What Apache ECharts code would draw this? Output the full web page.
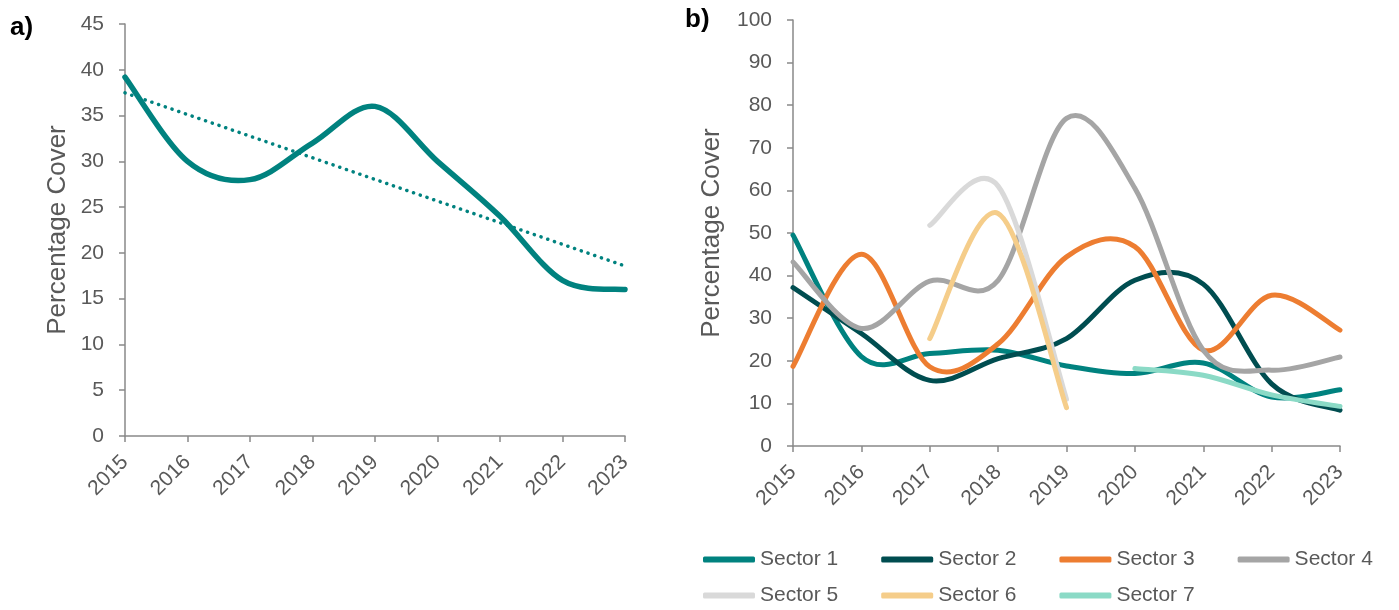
<!DOCTYPE html>
<html>
<head>
<meta charset="utf-8">
<script src="https://cdn.jsdelivr.net/npm/echarts@6/dist/echarts.min.js"></script>
<style>
  html, body { margin: 0; padding: 0; background: #fff; }
  #chart { width: 1399px; height: 610px; }
</style>
</head>
<body>
<div id="chart"></div>
<script>
// Survey years shared by both panels
const years = ['2015', '2016', '2017', '2018', '2019', '2020', '2021', '2022', '2023'];

// Panel a) overall percentage cover
const overallCover = [39.2, 30, 28, 32, 36, 30, 24, 17, 16];

// Panel b) percentage cover per sector (null = not surveyed)
const sector1 = [49.5, 21, 21.7, 22.5, 18.8, 17, 19.5, 11.5, 13.2];
const sector2 = [37.2, 26.4, 15.4, 20.5, 25.2, 38.9, 38, 14.6, 8.4];
const sector3 = [18.7, 45, 18.6, 24, 44.4, 46.8, 22.5, 35.4, 27.2];
const sector4 = [43.2, 27.6, 38.7, 38.9, 76.9, 60.5, 22.5, 17.8, 20.9];
const sector5 = [null, null, 51.8, 61, 11, null, null, null, null];
const sector6 = [null, null, 25.2, 54.6, 9, null, null, null, null];
const sector7 = [null, null, null, null, null, 18.2, 16.6, 12, 9.3];

const sectorNames = ['Sector 1', 'Sector 2', 'Sector 3', 'Sector 4', 'Sector 5', 'Sector 6', 'Sector 7'];
const sectorData = [sector1, sector2, sector3, sector4, sector5, sector6, sector7];
const sectorColors = ['#00827f', '#004d50', '#ed7d31', '#a5a5a5', '#d9d9d9', '#f5cd8a', '#8bdac6'];

// Least-squares linear trend of the overall cover
function linearTrend(values) {
  const n = values.length;
  let sx = 0, sy = 0, sxy = 0, sxx = 0;
  values.forEach((v, i) => { sx += i; sy += v; sxy += i * v; sxx += i * i; });
  const slope = (n * sxy - sx * sy) / (n * sxx - sx * sx);
  const icpt = (sy - slope * sx) / n;
  return values.map((_, i) => +(icpt + slope * i).toFixed(3));
}
const overallTrend = linearTrend(overallCover);

const FONT = '"Liberation Sans", Arial, sans-serif';
const TEXT = '#595959';
const AXIS = '#898989';

// Smoothed line drawn as a Catmull-Rom style cubic Bezier through the
// points projected by the axes (spreadsheet-style smoothing).
function smoothLine(name, values, color, width, axisIndex) {
  const pts = [];
  values.forEach((v, i) => { if (v !== null) pts.push([i, v]); });
  return {
    name, type: 'custom', coordinateSystem: 'cartesian2d',
    xAxisIndex: axisIndex, yAxisIndex: axisIndex,
    data: pts, encode: { x: 0, y: 1 },
    itemStyle: { color },
    renderItem(params, api) {
      if (params.dataIndex !== 0) return { type: 'group', children: [] };
      const p = pts.map(d => api.coord(d));
      let d = 'M' + p[0][0] + ' ' + p[0][1];
      for (let i = 0; i < p.length - 1; i++) {
        const p0 = p[Math.max(i - 1, 0)], p1 = p[i], p2 = p[i + 1], p3 = p[Math.min(i + 2, p.length - 1)];
        const c1x = p1[0] + (p2[0] - p0[0]) / 6, c1y = p1[1] + (p2[1] - p0[1]) / 6;
        const c2x = p2[0] - (p3[0] - p1[0]) / 6, c2y = p2[1] - (p3[1] - p1[1]) / 6;
        d += ' C' + c1x + ' ' + c1y + ' ' + c2x + ' ' + c2y + ' ' + p2[0] + ' ' + p2[1];
      }
      return {
        type: 'path', shape: { pathData: d },
        style: { stroke: color, fill: 'none', lineWidth: width, lineCap: 'round', lineJoin: 'round' }
      };
    }
  };
}

function xAxisCfg(gridIndex) {
  return {
    type: 'category', gridIndex, data: years, boundaryGap: false,
    axisLine: { lineStyle: { color: AXIS, width: 1.5 } },
    axisTick: { show: true, length: 6, lineStyle: { color: AXIS, width: 1.5 } },
    axisLabel: { rotate: 45, color: TEXT, fontSize: 21, fontFamily: FONT, margin: 23, interval: 0 },
    splitLine: { show: false }
  };
}
function yAxisCfg(gridIndex, max, interval, gap) {
  return {
    type: 'value', gridIndex, min: 0, max, interval,
    name: 'Percentage Cover', nameLocation: 'middle', nameGap: gap,
    nameTextStyle: { color: TEXT, fontSize: 26, fontFamily: FONT },
    axisLine: { show: true, lineStyle: { color: AXIS, width: 1.5 } },
    axisTick: { show: true, length: 6, lineStyle: { color: AXIS, width: 1.5 } },
    axisLabel: { color: TEXT, fontSize: 21, fontFamily: FONT, margin: 21 },
    splitLine: { show: false }
  };
}

const sectorSeries = sectorNames.map((name, i) => smoothLine(name, sectorData[i], sectorColors[i], 5, 1));

const legendText = { color: TEXT, fontSize: 21, fontFamily: FONT };

const option = {
  animation: false,
  backgroundColor: '#ffffff',
  grid: [
    { left: 125, right: 774, top: 24, bottom: 174 },
    { left: 793, right: 59, top: 20, bottom: 164 }
  ],
  xAxis: [xAxisCfg(0), xAxisCfg(1)],
  yAxis: [yAxisCfg(0, 45, 5, 54), yAxisCfg(1, 100, 10, 68)],
  legend: [
    { data: sectorNames.slice(0, 4), left: 698, top: 544, width: 700, itemWidth: 52, itemHeight: 6,
      itemGap: 43, icon: 'roundRect', textStyle: legendText },
    { data: sectorNames.slice(4), left: 698, top: 580, width: 700, itemWidth: 52, itemHeight: 6,
      itemGap: 43, icon: 'roundRect', textStyle: legendText }
  ],
  graphic: [
    { type: 'text', left: 10, top: 15, style: { text: 'a)', font: 'bold 26px ' + FONT, fill: '#000' } },
    { type: 'text', left: 685, top: 7, style: { text: 'b)', font: 'bold 26px ' + FONT, fill: '#000' } }
  ],
  series: [
    { name: 'Linear trend', type: 'line', xAxisIndex: 0, yAxisIndex: 0, data: overallTrend,
      symbol: 'none', lineStyle: { color: '#00827f', width: 3.5, type: [0.1, 7], cap: 'round' } },
    smoothLine('Overall', overallCover, '#00827f', 5.5, 0),
    ...sectorSeries
  ]
};

echarts.init(document.getElementById('chart'), null, { renderer: 'canvas' }).setOption(option);
</script>
</body>
</html>
